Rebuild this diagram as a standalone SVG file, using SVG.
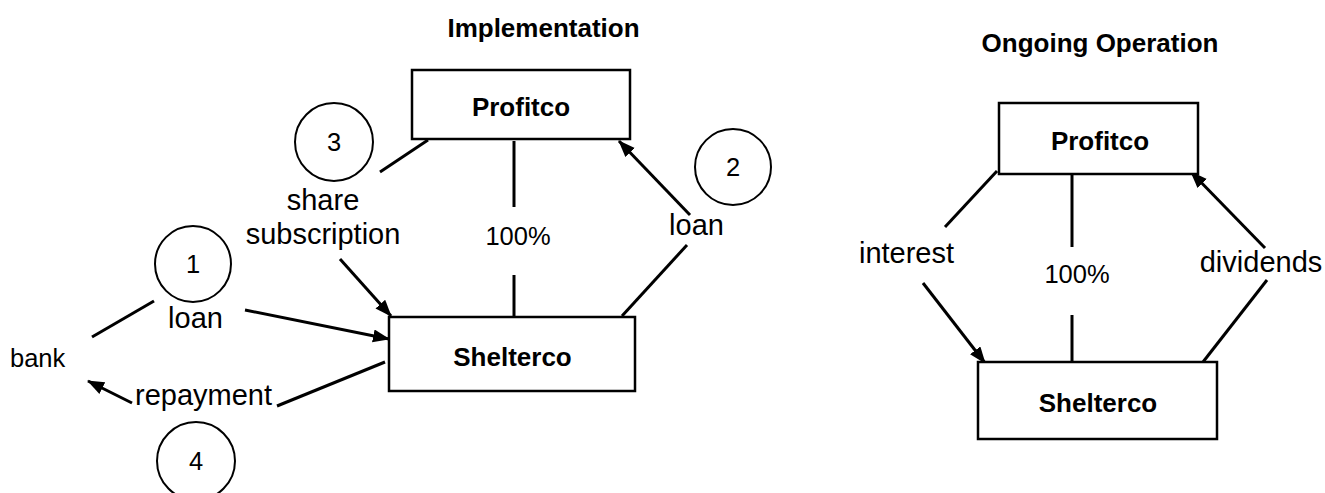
<svg xmlns="http://www.w3.org/2000/svg" width="1325" height="493" viewBox="0 0 1325 493">
<style>
text{font-family:"Liberation Sans",Arial,sans-serif;fill:#000}
.t{font-weight:bold;font-size:26px;text-anchor:middle}
.b{font-weight:bold;font-size:26px;text-anchor:middle}
.l{font-size:29px;text-anchor:middle}
.s{font-size:25.5px;text-anchor:middle}
.box{fill:#fff;stroke:#000;stroke-width:2.5}
.c{fill:#fff;stroke:#000;stroke-width:2}
.ln{stroke:#000;stroke-width:3;fill:none}
.ar{marker-end:url(#ah)}
</style>
<defs>
<marker id="ah" markerUnits="userSpaceOnUse" markerWidth="18" markerHeight="14" refX="16" refY="6.5" orient="auto" viewBox="0 0 18 14">
<path d="M0,0 L17,6.5 L0,13 z" fill="#000"/>
</marker>
</defs>
<text class="t" x="543.5" y="37">Implementation</text>
<text class="t" x="1100" y="52">Ongoing Operation</text>
<g id="connectors">
<line class="ln" x1="428" y1="140" x2="380" y2="172"/>
<line class="ln ar" x1="340" y1="259" x2="391" y2="316"/>
<line class="ln" x1="514" y1="141" x2="514" y2="207"/>
<line class="ln" x1="514" y1="275" x2="514" y2="317"/>
<line class="ln" x1="622" y1="316" x2="687" y2="245"/>
<line class="ln ar" x1="690" y1="215" x2="619" y2="141"/>
<line class="ln" x1="92" y1="337" x2="154" y2="301"/>
<line class="ln ar" x1="245" y1="310" x2="389" y2="339"/>
<line class="ln" x1="385" y1="362" x2="277" y2="406"/>
<line class="ln ar" x1="132" y1="403" x2="88" y2="381"/>
<line class="ln" x1="997" y1="171" x2="945" y2="227"/>
<line class="ln ar" x1="923" y1="283" x2="985" y2="363"/>
<line class="ln" x1="1072" y1="174" x2="1072" y2="247"/>
<line class="ln" x1="1072" y1="315" x2="1072" y2="362"/>
<line class="ln" x1="1203" y1="362" x2="1267" y2="280"/>
<line class="ln ar" x1="1265" y1="248" x2="1191" y2="172"/>
</g>
<g id="profitco1"><rect class="box" x="412" y="70" width="218" height="69"/><text class="b" x="521" y="116">Profitco</text></g>
<g id="shelterco1"><rect class="box" x="389" y="317" width="246" height="74"/><text class="b" x="512.5" y="366">Shelterco</text></g>
<g id="bank"><text style="font-size:25.5px" x="10" y="367">bank</text></g>
<g id="step1"><circle class="c" cx="193" cy="264" r="38"/><text class="s" x="193" y="273">1</text></g>
<g id="step2"><circle class="c" cx="733" cy="167" r="38"/><text class="s" x="733" y="176">2</text></g>
<g id="step3"><circle class="c" cx="334" cy="142" r="39"/><text class="s" x="334" y="151">3</text></g>
<g id="step4"><circle class="c" cx="196" cy="461" r="39"/><text class="s" x="196" y="470">4</text></g>
<g id="labels1">
<text class="l" x="323" y="210">share</text>
<text class="l" x="323" y="244">subscription</text>
<text class="s" x="518" y="245">100%</text>
<text class="l" x="696.5" y="235">loan</text>
<text class="l" x="195.5" y="328">loan</text>
<text class="l" x="203.5" y="405">repayment</text>
</g>
<g id="profitco2"><rect class="box" x="999" y="103" width="199" height="71"/><text class="b" x="1100" y="150">Profitco</text></g>
<g id="shelterco2"><rect class="box" x="978" y="362" width="239" height="77"/><text class="b" x="1098" y="412">Shelterco</text></g>
<g id="labels2">
<text class="s" x="1077" y="283">100%</text>
<text class="l" x="906.5" y="263">interest</text>
<text class="l" x="1261" y="272">dividends</text>
</g>
</svg>
